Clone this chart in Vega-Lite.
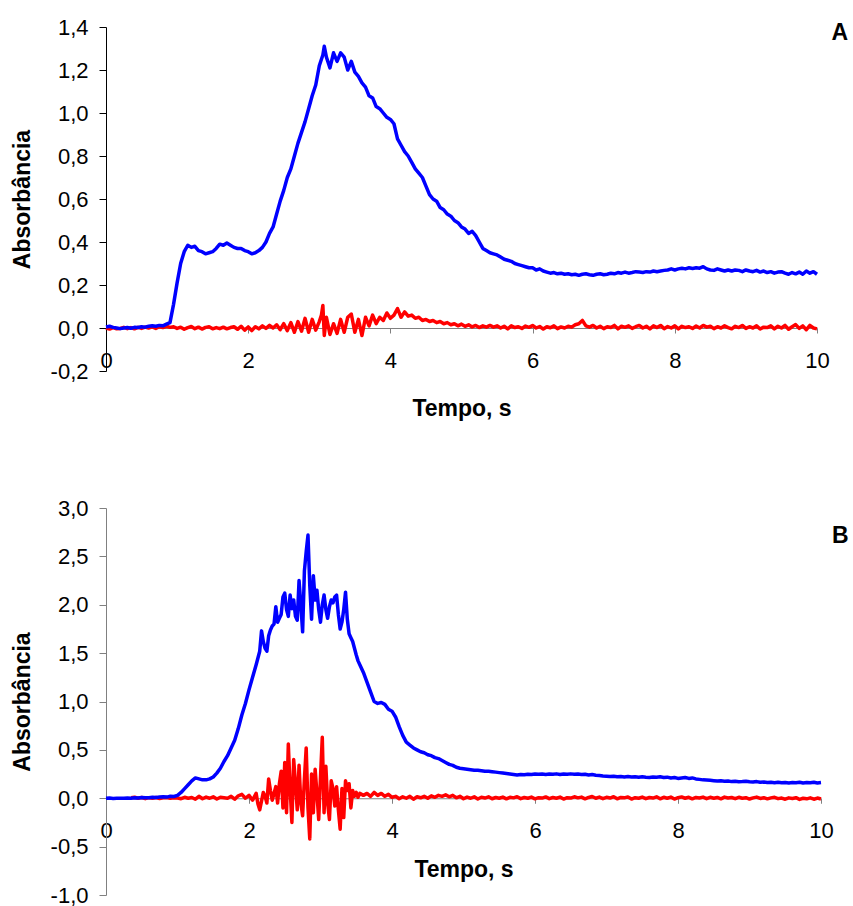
{
"$schema": "https://vega.github.io/schema/vega-lite/v6.json",
"padding": {"top": 16, "left": 11, "right": 5, "bottom": 0},
"spacing": 77,
"config": {"view": {"stroke": null}, "font": "Liberation Sans", "axis": {"grid": false, "labelColor": "black", "titleColor": "black", "labelFlush": false, "labelOverlap": false}},
"datasets": {
"A": [
{"t":0,"b":0.005,"r":0},{"t":0.05,"b":0.008,"r":-0.005},{"t":0.1,"b":0.003,"r":0.002},{"t":0.15,"b":0,"r":-0.004},{"t":0.2,"b":-0.003,"r":-0.002},{"t":0.25,"b":0,"r":0.003},{"t":0.3,"b":0.002,"r":-0.003},{"t":0.35,"b":-0.001,"r":0.002},{"t":0.4,"b":0.003,"r":-0.004},{"t":0.45,"b":0.002,"r":0.003},
{"t":0.5,"b":0.006,"r":-0.002},{"t":0.55,"b":0.004,"r":0.004},{"t":0.6,"b":0.008,"r":0},{"t":0.65,"b":0.01,"r":0.005},{"t":0.7,"b":0.008,"r":-0.002},{"t":0.75,"b":0.012,"r":0.006},{"t":0.8,"b":0.01,"r":0.002},{"t":0.85,"b":0.018,"r":0.008},{"t":0.9,"b":0.025,"r":0.003},{"t":0.95,"b":0.11,"r":0.006},
{"t":1,"b":0.21,"r":-0.002},{"t":1.05,"b":0.3,"r":0.004},{"t":1.1,"b":0.355,"r":-0.006},{"t":1.15,"b":0.385,"r":0.002},{"t":1.2,"b":0.375,"r":0.007},{"t":1.25,"b":0.38,"r":-0.003},{"t":1.3,"b":0.36,"r":0.004},{"t":1.35,"b":0.355,"r":-0.005},{"t":1.4,"b":0.345,"r":0.003},{"t":1.45,"b":0.35,"r":0.006},
{"t":1.5,"b":0.355,"r":-0.004},{"t":1.55,"b":0.37,"r":0.002},{"t":1.6,"b":0.39,"r":-0.003},{"t":1.65,"b":0.385,"r":0.004},{"t":1.7,"b":0.395,"r":-0.004},{"t":1.75,"b":0.385,"r":0.002},{"t":1.8,"b":0.375,"r":0.006},{"t":1.85,"b":0.37,"r":-0.006},{"t":1.9,"b":0.37,"r":0.008},{"t":1.95,"b":0.36,"r":-0.01},
{"t":2,"b":0.355,"r":0.005},{"t":2.05,"b":0.345,"r":-0.012},{"t":2.1,"b":0.35,"r":0.006},{"t":2.15,"b":0.36,"r":-0.004},{"t":2.2,"b":0.375,"r":0.01},{"t":2.25,"b":0.4,"r":-0.002},{"t":2.3,"b":0.44,"r":0.012},{"t":2.35,"b":0.47,"r":0},{"t":2.4,"b":0.53,"r":0.015},{"t":2.45,"b":0.59,"r":-0.008},
{"t":2.5,"b":0.64,"r":0.02},{"t":2.55,"b":0.7,"r":-0.012},{"t":2.6,"b":0.74,"r":0.025},{"t":2.65,"b":0.8,"r":-0.02},{"t":2.7,"b":0.86,"r":0.03},{"t":2.75,"b":0.91,"r":-0.015},{"t":2.8,"b":0.96,"r":0.045},{"t":2.85,"b":1.02,"r":-0.02},{"t":2.9,"b":1.08,"r":0.04},{"t":2.95,"b":1.13,"r":-0.01},
{"t":3,"b":1.22,"r":0.03},{"t":3.03,"b":1.25,"r":0.06},{"t":3.05,"b":1.27,"r":0.105},{"t":3.07,"b":1.31,"r":-0.035},{"t":3.1,"b":1.26,"r":0.05},{"t":3.15,"b":1.21,"r":-0.03},{"t":3.2,"b":1.28,"r":0.02},{"t":3.25,"b":1.24,"r":-0.025},{"t":3.3,"b":1.28,"r":0.04},{"t":3.35,"b":1.26,"r":-0.02},
{"t":3.4,"b":1.2,"r":0.05},{"t":3.45,"b":1.24,"r":0.065},{"t":3.5,"b":1.19,"r":-0.02},{"t":3.55,"b":1.17,"r":0.04},{"t":3.6,"b":1.14,"r":-0.035},{"t":3.65,"b":1.12,"r":0.05},{"t":3.7,"b":1.08,"r":0.01},{"t":3.75,"b":1.07,"r":0.06},{"t":3.8,"b":1.03,"r":0.02},{"t":3.85,"b":1.02,"r":0.05},
{"t":3.9,"b":1,"r":0.035},{"t":3.95,"b":0.98,"r":0.07},{"t":4,"b":0.97,"r":0.045},{"t":4.05,"b":0.95,"r":0.06},{"t":4.1,"b":0.88,"r":0.09},{"t":4.15,"b":0.85,"r":0.05},{"t":4.2,"b":0.82,"r":0.075},{"t":4.25,"b":0.8,"r":0.055},{"t":4.3,"b":0.77,"r":0.06},{"t":4.35,"b":0.74,"r":0.045},
{"t":4.4,"b":0.72,"r":0.05},{"t":4.45,"b":0.7,"r":0.035},{"t":4.5,"b":0.66,"r":0.04},{"t":4.55,"b":0.62,"r":0.03},{"t":4.6,"b":0.6,"r":0.035},{"t":4.65,"b":0.59,"r":0.025},{"t":4.7,"b":0.56,"r":0.03},{"t":4.75,"b":0.55,"r":0.02},{"t":4.8,"b":0.53,"r":0.025},{"t":4.85,"b":0.52,"r":0.015},
{"t":4.9,"b":0.5,"r":0.02},{"t":4.95,"b":0.49,"r":0.01},{"t":5,"b":0.47,"r":0.018},{"t":5.05,"b":0.46,"r":0.008},{"t":5.1,"b":0.44,"r":0.015},{"t":5.15,"b":0.45,"r":0.005},{"t":5.2,"b":0.43,"r":0.012},{"t":5.25,"b":0.4,"r":0.002},{"t":5.3,"b":0.37,"r":0.01},{"t":5.35,"b":0.36,"r":0.004},
{"t":5.4,"b":0.35,"r":0.012},{"t":5.45,"b":0.345,"r":0.004},{"t":5.5,"b":0.34,"r":0.01},{"t":5.55,"b":0.33,"r":0},{"t":5.6,"b":0.32,"r":0.008},{"t":5.65,"b":0.315,"r":-0.004},{"t":5.7,"b":0.31,"r":0.01},{"t":5.75,"b":0.3,"r":0.002},{"t":5.8,"b":0.295,"r":0.006},{"t":5.85,"b":0.29,"r":-0.002},
{"t":5.9,"b":0.285,"r":0.009},{"t":5.95,"b":0.28,"r":0.003},{"t":6,"b":0.28,"r":0.012},{"t":6.05,"b":0.27,"r":0},{"t":6.1,"b":0.275,"r":0.007},{"t":6.15,"b":0.265,"r":-0.005},{"t":6.2,"b":0.26,"r":0.006},{"t":6.25,"b":0.255,"r":0.001},{"t":6.3,"b":0.258,"r":0.01},{"t":6.35,"b":0.252,"r":-0.003},
{"t":6.4,"b":0.255,"r":0.005},{"t":6.45,"b":0.25,"r":0},{"t":6.5,"b":0.252,"r":0.008},{"t":6.55,"b":0.248,"r":0.004},{"t":6.6,"b":0.25,"r":0.015},{"t":6.65,"b":0.245,"r":0.02},{"t":6.7,"b":0.25,"r":0.035},{"t":6.75,"b":0.252,"r":0.01},{"t":6.8,"b":0.248,"r":0.004},{"t":6.85,"b":0.245,"r":0.012},
{"t":6.9,"b":0.25,"r":0},{"t":6.95,"b":0.252,"r":0.008},{"t":7,"b":0.248,"r":-0.003},{"t":7.05,"b":0.25,"r":0.006},{"t":7.1,"b":0.255,"r":0.002},{"t":7.15,"b":0.252,"r":0.012},{"t":7.2,"b":0.258,"r":-0.004},{"t":7.25,"b":0.255,"r":0.008},{"t":7.3,"b":0.26,"r":0.003},{"t":7.35,"b":0.255,"r":0.01},
{"t":7.4,"b":0.258,"r":-0.002},{"t":7.45,"b":0.262,"r":0.006},{"t":7.5,"b":0.26,"r":0.012},{"t":7.55,"b":0.258,"r":0},{"t":7.6,"b":0.262,"r":0.008},{"t":7.65,"b":0.26,"r":-0.004},{"t":7.7,"b":0.265,"r":0.01},{"t":7.75,"b":0.262,"r":0.002},{"t":7.8,"b":0.265,"r":0.012},{"t":7.85,"b":0.268,"r":-0.003},
{"t":7.9,"b":0.27,"r":0.007},{"t":7.95,"b":0.275,"r":0},{"t":8,"b":0.27,"r":0.01},{"t":8.05,"b":0.275,"r":-0.004},{"t":8.1,"b":0.278,"r":0.008},{"t":8.15,"b":0.275,"r":0.002},{"t":8.2,"b":0.28,"r":0.006},{"t":8.25,"b":0.277,"r":-0.002},{"t":8.3,"b":0.28,"r":0.009},{"t":8.35,"b":0.278,"r":0},
{"t":8.4,"b":0.285,"r":0.012},{"t":8.45,"b":0.275,"r":0.004},{"t":8.5,"b":0.27,"r":0.008},{"t":8.55,"b":0.268,"r":-0.003},{"t":8.6,"b":0.275,"r":0.006},{"t":8.65,"b":0.27,"r":0},{"t":8.7,"b":0.265,"r":0.01},{"t":8.75,"b":0.27,"r":0.002},{"t":8.8,"b":0.265,"r":-0.004},{"t":8.85,"b":0.27,"r":0.008},
{"t":8.9,"b":0.268,"r":0.002},{"t":8.95,"b":0.262,"r":0.012},{"t":9,"b":0.27,"r":-0.002},{"t":9.05,"b":0.265,"r":0.006},{"t":9.1,"b":0.262,"r":0},{"t":9.15,"b":0.268,"r":0.01},{"t":9.2,"b":0.26,"r":-0.005},{"t":9.25,"b":0.265,"r":0.004},{"t":9.3,"b":0.258,"r":0.002},{"t":9.35,"b":0.262,"r":0.01},
{"t":9.4,"b":0.255,"r":-0.004},{"t":9.45,"b":0.26,"r":0.008},{"t":9.5,"b":0.262,"r":0},{"t":9.55,"b":0.255,"r":0.012},{"t":9.6,"b":0.25,"r":-0.006},{"t":9.65,"b":0.258,"r":0.006},{"t":9.7,"b":0.252,"r":0.016},{"t":9.75,"b":0.26,"r":-0.002},{"t":9.8,"b":0.25,"r":0.01},{"t":9.85,"b":0.265,"r":-0.008},
{"t":9.9,"b":0.255,"r":0.012},{"t":9.95,"b":0.262,"r":0},{"t":10,"b":0.25,"r":-0.004}
],
"B": [
{"t":0,"b":0},{"t":0.05,"b":0.002},{"t":0.1,"b":-0.002},{"t":0.15,"b":0},{"t":0.2,"b":0.001},{"t":0.25,"b":-0.001},{"t":0.3,"b":0.002},
{"t":0.35,"b":0,"r":0.005},{"t":0.4,"b":0.004,"r":0.01},{"t":0.45,"b":0.002,"r":0},{"t":0.5,"b":0.008,"r":0.008},{"t":0.55,"b":0.004,"r":-0.004},{"t":0.6,"b":0.006,"r":0.006},{"t":0.65,"b":0.01,"r":0},{"t":0.7,"b":0.008,"r":0.008},{"t":0.75,"b":0.012,"r":-0.002},{"t":0.8,"b":0.015,"r":0.004},
{"t":0.85,"b":0.012,"r":0.008},{"t":0.9,"b":0.02,"r":0},{"t":0.95,"b":0.018,"r":0.006},{"t":1,"b":0.03,"r":0.002},{"t":1.05,"b":0.06,"r":-0.005},{"t":1.1,"b":0.1,"r":0.01},{"t":1.15,"b":0.14,"r":0},{"t":1.2,"b":0.18,"r":0.008},{"t":1.25,"b":0.21,"r":-0.01},{"t":1.3,"b":0.2,"r":0.02},
{"t":1.35,"b":0.19,"r":-0.005},{"t":1.4,"b":0.19,"r":0.012},{"t":1.45,"b":0.2,"r":0},{"t":1.5,"b":0.22,"r":0.015},{"t":1.55,"b":0.26,"r":-0.008},{"t":1.6,"b":0.31,"r":0.01},{"t":1.65,"b":0.38,"r":0.005},{"t":1.7,"b":0.44,"r":0},{"t":1.75,"b":0.52,"r":0.02},{"t":1.8,"b":0.6,"r":-0.01},
{"t":1.85,"b":0.72,"r":0.025},{"t":1.9,"b":0.86,"r":0.04},{"t":1.95,"b":0.98,"r":0},{"t":2,"b":1.12,"r":0.03},{"t":2.05,"b":1.25,"r":-0.02},{"t":2.1,"b":1.38,"r":0.05},{"t":2.125,"b":1.45,"r":-0.06},{"t":2.15,"b":1.52,"r":-0.12},{"t":2.175,"b":1.73,"r":-0.03},{"t":2.2,"b":1.62,"r":0.06},
{"t":2.225,"b":1.55,"r":0.02},{"t":2.25,"b":1.52,"r":-0.05},{"t":2.275,"b":1.68,"r":0.2},{"t":2.3,"b":1.74,"r":0.08},{"t":2.325,"b":1.78,"r":-0.02},{"t":2.35,"b":1.8,"r":0.05},{"t":2.375,"b":1.98,"r":0.12},{"t":2.4,"b":1.82,"r":-0.05},{"t":2.425,"b":1.86,"r":0.15},{"t":2.45,"b":1.9,"r":0.28},
{"t":2.475,"b":2.08,"r":-0.1},{"t":2.5,"b":2.12,"r":0.37},{"t":2.525,"b":1.95,"r":-0.15},{"t":2.55,"b":1.88,"r":0.56},{"t":2.575,"b":2.1,"r":0.1},{"t":2.6,"b":1.96,"r":-0.25},{"t":2.625,"b":2.05,"r":0.4},{"t":2.65,"b":1.88,"r":0.15},{"t":2.675,"b":1.84,"r":-0.12},{"t":2.7,"b":2.25,"r":0.34},
{"t":2.725,"b":2,"r":-0.05},{"t":2.75,"b":1.72,"r":-0.18},{"t":2.775,"b":2.35,"r":0.2},{"t":2.8,"b":2.55,"r":0.52},{"t":2.825,"b":2.72,"r":-0.1},{"t":2.85,"b":2.2,"r":-0.42},{"t":2.875,"b":1.85,"r":0.25},{"t":2.9,"b":2.3,"r":-0.15},{"t":2.925,"b":2.05,"r":0.3},{"t":2.95,"b":2.15,"r":0.05},
{"t":2.975,"b":1.95,"r":-0.22},{"t":3,"b":1.82,"r":0.22},{"t":3.025,"b":2,"r":0.63},{"t":3.05,"b":2.1,"r":-0.15},{"t":3.075,"b":1.95,"r":0.33},{"t":3.1,"b":1.86,"r":-0.05},{"t":3.125,"b":1.98,"r":-0.22},{"t":3.15,"b":2.05,"r":0.18},{"t":3.175,"b":2.02,"r":0.1},{"t":3.2,"b":2.08,"r":-0.08},
{"t":3.225,"b":2.1,"r":0.12},{"t":3.25,"b":1.9,"r":-0.12},{"t":3.275,"b":1.75,"r":-0.32},{"t":3.3,"b":1.82,"r":0.1},{"t":3.325,"b":1.95,"r":-0.2},{"t":3.35,"b":2.13,"r":0.18},{"t":3.375,"b":1.85,"r":0.08},{"t":3.4,"b":1.7,"r":0.15},{"t":3.425,"b":1.66,"r":-0.1},{"t":3.45,"b":1.62,"r":0.08},
{"t":3.475,"b":1.55,"r":0.02},{"t":3.5,"b":1.48,"r":0.06},{"t":3.525,"b":1.42,"r":0.01},{"t":3.55,"b":1.38,"r":0.05},{"t":3.6,"b":1.3,"r":0.03},{"t":3.65,"b":1.2,"r":0.05},{"t":3.7,"b":1.1,"r":0.02},{"t":3.75,"b":1,"r":0.06},{"t":3.8,"b":0.98,"r":0.03},{"t":3.85,"b":0.99,"r":0.05},
{"t":3.9,"b":0.97,"r":0.02},{"t":3.95,"b":0.92,"r":0.04},{"t":4,"b":0.9,"r":0.01},{"t":4.05,"b":0.84,"r":0.02},{"t":4.1,"b":0.74,"r":-0.005},{"t":4.15,"b":0.65,"r":0.015},{"t":4.2,"b":0.58,"r":0},{"t":4.25,"b":0.55,"r":0.02},{"t":4.3,"b":0.52,"r":-0.01},{"t":4.35,"b":0.5,"r":0.015},
{"t":4.4,"b":0.48,"r":0.005},{"t":4.45,"b":0.47,"r":0.02},{"t":4.5,"b":0.45,"r":0},{"t":4.55,"b":0.44,"r":0.025},{"t":4.6,"b":0.42,"r":0.01},{"t":4.65,"b":0.41,"r":0.03},{"t":4.7,"b":0.39,"r":0.02},{"t":4.75,"b":0.37,"r":0.035},{"t":4.8,"b":0.35,"r":0.015},{"t":4.85,"b":0.34,"r":0.03},
{"t":4.9,"b":0.32,"r":0.005},{"t":4.95,"b":0.31,"r":0.02},{"t":5,"b":0.305,"r":-0.005},{"t":5.05,"b":0.3,"r":0.012},{"t":5.1,"b":0.295,"r":0},{"t":5.15,"b":0.29,"r":0.015},{"t":5.2,"b":0.29,"r":-0.008},{"t":5.25,"b":0.285,"r":0.01},{"t":5.3,"b":0.28,"r":0.002},{"t":5.35,"b":0.28,"r":0.015},
{"t":5.4,"b":0.275,"r":-0.005},{"t":5.45,"b":0.27,"r":0.008},{"t":5.5,"b":0.265,"r":0},{"t":5.55,"b":0.26,"r":0.012},{"t":5.6,"b":0.255,"r":-0.006},{"t":5.65,"b":0.25,"r":0.01},{"t":5.7,"b":0.245,"r":0.004},{"t":5.75,"b":0.24,"r":0.016},{"t":5.8,"b":0.245,"r":-0.004},{"t":5.85,"b":0.242,"r":0.008},
{"t":5.9,"b":0.248,"r":0},{"t":5.95,"b":0.245,"r":0.012},{"t":6,"b":0.25,"r":-0.006},{"t":6.05,"b":0.248,"r":0.006},{"t":6.1,"b":0.25,"r":0.002},{"t":6.15,"b":0.245,"r":0.014},{"t":6.2,"b":0.25,"r":-0.004},{"t":6.25,"b":0.248,"r":0.008},{"t":6.3,"b":0.252,"r":0},{"t":6.35,"b":0.245,"r":0.012},
{"t":6.4,"b":0.25,"r":-0.008},{"t":6.45,"b":0.248,"r":0.006},{"t":6.5,"b":0.252,"r":0.002},{"t":6.55,"b":0.248,"r":0.015},{"t":6.6,"b":0.25,"r":0.004},{"t":6.65,"b":0.245,"r":0.012},{"t":6.7,"b":0.248,"r":-0.006},{"t":6.75,"b":0.24,"r":0.008},{"t":6.8,"b":0.245,"r":0.018},{"t":6.85,"b":0.238,"r":0},
{"t":6.9,"b":0.235,"r":0.012},{"t":6.95,"b":0.23,"r":-0.004},{"t":7,"b":0.228,"r":0.01},{"t":7.05,"b":0.225,"r":0.002},{"t":7.1,"b":0.228,"r":0.016},{"t":7.15,"b":0.222,"r":-0.006},{"t":7.2,"b":0.225,"r":0.008},{"t":7.25,"b":0.22,"r":0.004},{"t":7.3,"b":0.225,"r":0.014},{"t":7.35,"b":0.22,"r":-0.008},
{"t":7.4,"b":0.222,"r":0.006},{"t":7.45,"b":0.218,"r":0},{"t":7.5,"b":0.222,"r":0.012},{"t":7.55,"b":0.218,"r":-0.004},{"t":7.6,"b":0.215,"r":0.008},{"t":7.65,"b":0.22,"r":0.002},{"t":7.7,"b":0.218,"r":0.015},{"t":7.75,"b":0.222,"r":-0.006},{"t":7.8,"b":0.215,"r":0.01},{"t":7.85,"b":0.218,"r":0},
{"t":7.9,"b":0.21,"r":0.012},{"t":7.95,"b":0.215,"r":-0.008},{"t":8,"b":0.205,"r":0.006},{"t":8.05,"b":0.21,"r":0.014},{"t":8.1,"b":0.215,"r":0},{"t":8.15,"b":0.205,"r":0.01},{"t":8.2,"b":0.21,"r":-0.006},{"t":8.25,"b":0.2,"r":0.008},{"t":8.3,"b":0.195,"r":0.002},{"t":8.35,"b":0.19,"r":0.012},
{"t":8.4,"b":0.188,"r":-0.004},{"t":8.45,"b":0.185,"r":0.01},{"t":8.5,"b":0.182,"r":0},{"t":8.55,"b":0.178,"r":0.008},{"t":8.6,"b":0.18,"r":-0.006},{"t":8.65,"b":0.175,"r":0.012},{"t":8.7,"b":0.178,"r":0.002},{"t":8.75,"b":0.172,"r":0.008},{"t":8.8,"b":0.175,"r":-0.004},{"t":8.85,"b":0.17,"r":0.01},
{"t":8.9,"b":0.172,"r":0},{"t":8.95,"b":0.175,"r":0.006},{"t":9,"b":0.17,"r":-0.008},{"t":9.05,"b":0.168,"r":0.004},{"t":9.1,"b":0.172,"r":0.012},{"t":9.15,"b":0.165,"r":-0.002},{"t":9.2,"b":0.168,"r":0.006},{"t":9.25,"b":0.162,"r":-0.006},{"t":9.3,"b":0.165,"r":0.004},{"t":9.35,"b":0.16,"r":0.01},
{"t":9.4,"b":0.165,"r":-0.004},{"t":9.45,"b":0.16,"r":0.002},{"t":9.5,"b":0.163,"r":-0.01},{"t":9.55,"b":0.158,"r":0.004},{"t":9.6,"b":0.162,"r":-0.002},{"t":9.65,"b":0.16,"r":0.006},{"t":9.7,"b":0.165,"r":-0.012},{"t":9.75,"b":0.158,"r":0},{"t":9.8,"b":0.162,"r":-0.006},{"t":9.85,"b":0.16,"r":0.004},
{"t":9.9,"b":0.165,"r":-0.01},{"t":9.95,"b":0.158,"r":0.002},{"t":10,"b":0.162,"r":-0.008}
]
},
"vconcat": [
{
"width": 711, "height": 344,
"layer": [
{"data": {"name": "A"},
"transform": [{"fold": ["r", "b"], "as": ["s", "v"]}],
"mark": {"type": "line", "strokeWidth": 3.5, "strokeJoin": "round"},
"encoding": {
"x": {"field": "t", "type": "quantitative", "scale": {"domain": [0, 10], "nice": false},
"axis": {"values": [0,2,4,6,8,10], "format": "d", "offset": -43, "domainColor": "#808080", "tickColor": "#808080", "tickSize": 5, "labelPadding": 17, "labelFontSize": 22, "title": "Tempo, s", "titleFontSize": 23, "titleFontWeight": "bold", "titlePadding": 26}},
"y": {"field": "v", "type": "quantitative", "scale": {"domain": [-0.2, 1.4], "nice": false, "zero": false},
"axis": {"values": [-0.2,0,0.2,0.4,0.6,0.8,1,1.2,1.4], "labelExpr": "(datum.value < 0 ? '-' : '') + replace(format(abs(datum.value), '.1f'), '.', ',')", "domainColor": "black", "tickColor": "black", "tickSize": 7, "labelPadding": 11, "labelFontSize": 22, "title": "Absorbância", "titleFontSize": 23, "titleFontWeight": "bold", "titlePadding": 16}},
"color": {"field": "s", "type": "nominal", "scale": {"domain": ["b", "r"], "range": ["#0000FF", "#FF0000"]}, "legend": null}
}},
{"data": {"values": [{"lbl": "A"}]},
"mark": {"type": "text", "fontSize": 23, "fontWeight": "bold", "color": "black"},
"encoding": {"x": {"datum": 10.32}, "y": {"datum": 1.37}, "text": {"field": "lbl"}}}
]
},
{
"width": 715, "height": 387,
"layer": [
{"data": {"name": "B"},
"transform": [{"fold": ["r", "b"], "as": ["s", "v"]}],
"mark": {"type": "line", "strokeWidth": 3.5, "strokeJoin": "round"},
"encoding": {
"x": {"field": "t", "type": "quantitative", "scale": {"domain": [0, 10], "nice": false},
"axis": {"values": [0,2,4,6,8,10], "format": "d", "offset": -96.75, "domainColor": "#808080", "tickColor": "#808080", "tickSize": 5, "labelPadding": 17, "labelFontSize": 22, "title": "Tempo, s", "titleFontSize": 23, "titleFontWeight": "bold", "titlePadding": 17}},
"y": {"field": "v", "type": "quantitative", "scale": {"domain": [-1, 3], "nice": false, "zero": false},
"axis": {"values": [-1,-0.5,0,0.5,1,1.5,2,2.5,3], "labelExpr": "(datum.value < 0 ? '-' : '') + replace(format(abs(datum.value), '.1f'), '.', ',')", "domainColor": "#808080", "tickColor": "#808080", "tickSize": 7, "labelPadding": 11, "labelFontSize": 22, "title": "Absorbância", "titleFontSize": 23, "titleFontWeight": "bold", "titlePadding": 16}},
"color": {"field": "s", "type": "nominal", "scale": {"domain": ["b", "r"], "range": ["#0000FF", "#FF0000"]}, "legend": null}
}},
{"data": {"values": [{"lbl": "B"}]},
"mark": {"type": "text", "fontSize": 23, "fontWeight": "bold", "color": "black"},
"encoding": {"x": {"datum": 10.27}, "y": {"datum": 2.71}, "text": {"field": "lbl"}}}
]
}
]
}
